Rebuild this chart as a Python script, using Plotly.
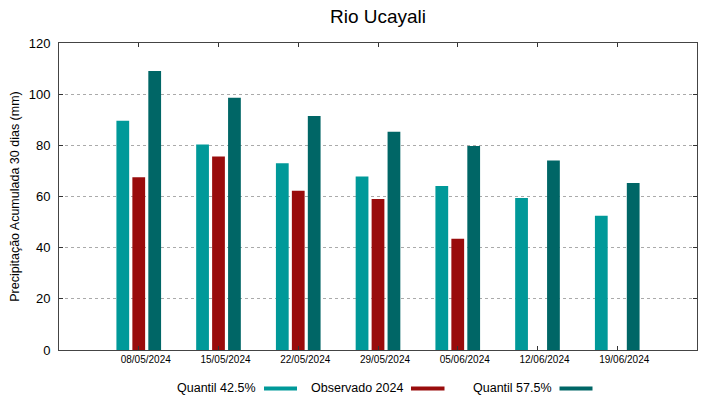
import plotly.graph_objects as go

dates = ["08/05/2024", "15/05/2024", "22/05/2024", "29/05/2024", "05/06/2024", "12/06/2024", "19/06/2024"]
q425 = [89.6, 80.3, 73.0, 67.8, 64.1, 59.4, 52.5]
obs2024 = [67.5, 75.6, 62.2, 59.0, 43.5, None, None]
q575 = [109.1, 98.6, 91.5, 85.3, 79.7, 74.1, 65.3]
series_names = ["Quantil 42.5%", "Observado 2024", "Quantil 57.5%"]
colors = ["#009999", "#990c0c", "#006666"]
yticks = [0, 20, 40, 60, 80, 100, 120]

FONT = "Liberation Sans, Arial, sans-serif"
x = list(range(len(dates)))

fig = go.Figure()
for name, vals, c in zip(series_names, [q425, obs2024, q575], colors):
    fig.add_trace(go.Bar(x=x, y=vals, name=name, marker=dict(color=c, line=dict(width=0)),
                         showlegend=False))

fig.update_layout(
    width=719, height=399,
    margin=dict(l=59, r=22, t=43, b=49),
    paper_bgcolor="white", plot_bgcolor="white",
    barmode="group", bargap=0.4, bargroupgap=0.2,
    font=dict(family=FONT, color="black"),
    title=dict(text="Rio Ucayali", xref="paper", x=0.5, xanchor="center",
               yref="container", y=1 - 16 / 399, yanchor="middle",
               font=dict(size=19, family=FONT, color="black")),
)
fig.update_xaxes(
    range=[-1, len(dates)], tickmode="array", tickvals=x, ticktext=dates,
    tickfont=dict(size=10), showgrid=False, ticks="inside", ticklen=4, tickcolor="#333",
    ticklabelshift=7,
    showline=True, linecolor="#444", linewidth=1, mirror="ticks", zeroline=False,
)
fig.update_yaxes(
    range=[0, 120], tickmode="array", tickvals=yticks, tickfont=dict(size=13),
    showgrid=True, gridcolor="#aaaaaa", griddash="dot", gridwidth=1,
    ticks="inside", ticklen=4, tickcolor="#333", ticklabelstandoff=5,
    showline=True, linecolor="#444", linewidth=1, mirror="ticks", zeroline=False,
    title=dict(text="Precipitação Acumulada 30 dias (mm)", font=dict(size=12.5), standoff=6),
)

# gnuplot-style legend: label followed by colour swatch
leg_text_right = [257, 404, 552.5]
leg_sw = [(264, 297), (411, 444.5), (559.5, 592.5)]
pl, pr, pt, pb = 59, 697, 43, 350
def px(xp):
    return (xp - pl) / (pr - pl)
def py(yp):
    return (pb - yp) / (pb - pt)
for name, c, tr, (s0, s1) in zip(series_names, colors, leg_text_right, leg_sw):
    fig.add_annotation(xref="paper", yref="paper", x=px(tr), y=py(387.5), text=name,
                       showarrow=False, xanchor="right", yanchor="middle",
                       xshift=0, borderpad=0,
                       font=dict(size=12.5, family=FONT, color="black"))
    fig.add_shape(type="rect", xref="paper", yref="paper",
                  x0=px(s0), x1=px(s1), y0=py(390.5), y1=py(386.5),
                  fillcolor=c, line=dict(width=0))

fig.write_html("out.html", config={"displayModeBar": False},
               post_script="document.body.style.margin='0';document.body.style.overflow='hidden';")
